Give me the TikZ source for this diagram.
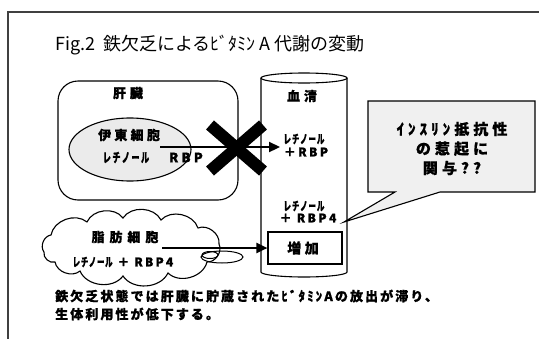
\documentclass[tikz,border=0pt]{standalone}
\usepackage{fontspec}
\setmainfont{Noto Sans CJK JP}
\newfontfamily\jpnarrow[FakeStretch=0.62]{Noto Sans CJK JP}
\usetikzlibrary{shapes.symbols,shapes.geometric,arrows.meta}
\newcommand\fz[2]{\fontsize{#1}{#1}\selectfont\addfontfeatures{LetterSpace=#2,FakeBold=0.8}}
\newcommand\retinol[2]{{\jpnarrow\bfseries\fontsize{#1}{#1}\selectfont\addfontfeatures{LetterSpace=#2,FakeBold=0.8}レチノール}}
\tikzset{
  shape line/.style={draw=black, line width=1.1pt},
  lbl/.style={inner sep=0pt, text=black},
  thickarrow/.style={line width=2.3pt, -{Triangle[length=11pt,width=10pt]}},
  xbar/.style={line width=12pt, line cap=butt},
  puff/.style={bend left=60},
}
\begin{document}
\begin{tikzpicture}[x=1pt,y=-1pt]
\useasboundingbox (0,0) rectangle (539,338);
% frame
\draw[line width=1.2pt, draw=black!75] (8,340) -- (8,12) -- (541,12);
% title
\node[lbl, anchor=west] (title) at (55,45) {\fontsize{18}{18}\selectfont Fig.2~~鉄欠乏によるﾋﾞﾀﾐﾝ A 代謝の変動};
% liver
\node[shape line, rounded corners=20pt, minimum width=180pt, minimum height=119pt] (liver) at (148,140.5) {};
\node[lbl] (liverlbl) at (128,93) {\bfseries\fz{13}{30}肝臓};
\node[shape line, ellipse, fill=black!8, minimum width=122pt, minimum height=63pt, inner sep=0pt] (ito) at (130,149.5) {};
\node[lbl] (itolbl) at (129,135) {\bfseries\fz{13}{25}伊東細胞};
\node[lbl] (itoret) at (126,157.5) {\retinol{13}{12}};
\node[lbl] (itorbp) at (186,157.5) {\bfseries\fz{13}{25}RBP};
% serum cylinder
\draw[shape line, fill=white] (261,78) -- (261,272) arc[start angle=180, end angle=360, x radius=43pt, y radius=5pt] -- (347,78);
\draw[shape line] (304,78) ellipse [x radius=43pt, y radius=5pt];
\node[lbl] (serumlbl) at (302,96) {\bfseries\fz{13}{30}血清};
\node[lbl] (sret1) at (304,139) {\retinol{12}{8}};
\node[lbl] (srbp1) at (306,152) {\bfseries\fz{12}{20}＋RBP};
\node[lbl] (sret2) at (304,206) {\retinol{12}{8}};
\node[lbl] (srbp2) at (308,218) {\bfseries\fz{12}{20}＋ RBP4};
\node[shape line, minimum width=74pt, minimum height=32pt] (inc) at (305,248) {};
\node[lbl] (inclbl) at (303,248) {\bfseries\fz{14}{25}増加};
% arrow liver -> serum, blocked
\coordinate (itostart) at (160,147);
\coordinate (serumin) at (280,147);
\draw[thickarrow] (itostart) -- (serumin);
\draw[xbar] (210,125) -- (263,171);
\draw[xbar] (210,171) -- (263,125);
% fat cell cloud
\draw[shape line, fill=white] (44,252) to[puff] (51,235) to[puff] (87,222) to[puff] (123,218)
  to[puff] (161,220) to[puff] (198,228) to[puff] (219,244) to[puff] (207,262)
  to[puff] (168,273) to[puff] (123,276) to[puff] (80,271) to[puff] (55,262)
  to[puff] cycle;
\coordinate (fat) at (131,246);
\draw[line width=1pt] (222,257) ellipse [x radius=21pt, y radius=6pt];
\draw[line width=1pt] (210,255) ellipse [x radius=8pt, y radius=3.5pt];
\node[lbl] (fatlbl) at (125,237) {\bfseries\fz{13}{38}脂肪細胞};
\node[lbl] (fatret) at (123,262) {\retinol{12}{6}\bfseries\fz{12}{18}\ ＋ RBP4};
\coordinate (fatstart) at (162,248);
\draw[thickarrow] (fatstart) -- (inc.west);
% callout
\coordinate (calltip) at (344,222);
\draw[shape line, fill=black!6] (368,101) -- (535,101) -- (535,192) -- (440,192) -- (calltip) -- (395,192) -- (368,192) -- cycle;
\node[lbl, align=center, font=\bfseries\fontsize{15}{19.5}\selectfont\addfontfeatures{LetterSpace=27,FakeBold=0.8}] (calltxt) at (452,148.5) {ｲﾝｽﾘﾝ抵抗性\\の惹起に\\関与??};
% bottom text
\node[lbl, anchor=west] (note1) at (55,296) {\bfseries\fz{13}{16}鉄欠乏状態では肝臓に貯蔵されたﾋﾞﾀﾐﾝAの放出が滞り、};
\node[lbl, anchor=west] (note2) at (55,314) {\bfseries\fz{13}{16}生体利用性が低下する。};
\end{tikzpicture}
\end{document}
